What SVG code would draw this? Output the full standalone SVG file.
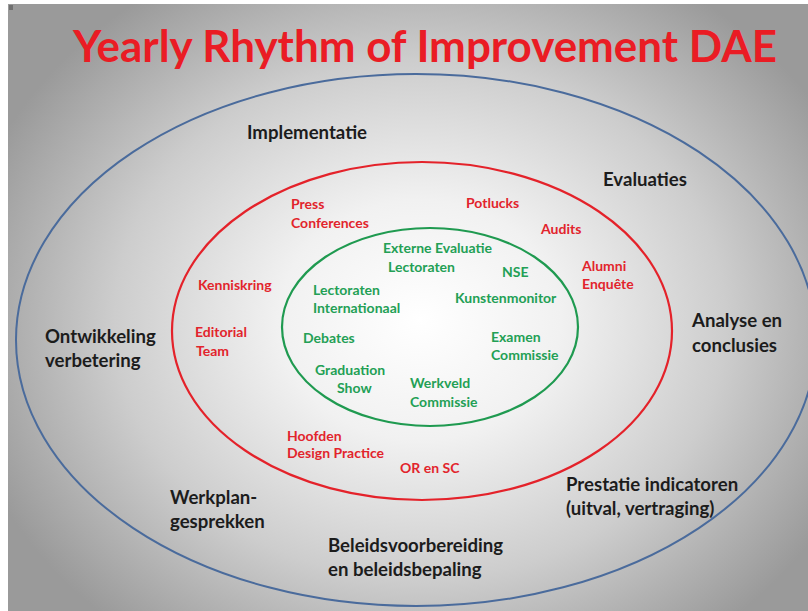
<svg xmlns="http://www.w3.org/2000/svg" width="808" height="611" viewBox="0 0 808 611">
  <defs>
    <radialGradient id="bg" gradientUnits="userSpaceOnUse" cx="420" cy="320" r="470" gradientTransform="translate(420 320) scale(1 0.85) translate(-420 -320)">
      <stop offset="0" stop-color="#ffffff"/>
      <stop offset="0.3" stop-color="#f1f1f1"/>
      <stop offset="0.65" stop-color="#cdcdcd"/>
      <stop offset="1" stop-color="#9a9a9a"/>
    </radialGradient>
    <style>
      text { font-family: Lato, "Liberation Sans", sans-serif; font-weight: bold; }
      .title { fill: #ea1c24; font-size: 44px; }
      .phase { fill: #1c1c1c; font-size: 18.6px; }
      .mid { fill: #e2242c; font-size: 14px; }
      .core { fill: #23a055; font-size: 14px; }
      .ring { fill: none; }
    </style>
  </defs>

  <!-- slide background -->
  <rect width="808" height="611" fill="#ffffff"/>
  <rect x="8" y="4" width="800" height="607" fill="url(#bg)"/>
  <rect x="9" y="5" width="4" height="5" fill="#555555" opacity="0.6"/>

  <text class="title" x="73" y="62" textLength="704" lengthAdjust="spacingAndGlyphs">Yearly Rhythm of Improvement DAE</text>

  <!-- rings -->
  <g id="rings">
    <ellipse id="outer-ring" class="ring" cx="416" cy="340" rx="400" ry="266" stroke="#4a6b9c" stroke-width="2"/>
    <ellipse id="middle-ring" class="ring" cx="422" cy="331" rx="250" ry="169" stroke="#e4222a" stroke-width="2.2"/>
    <ellipse id="inner-ring" class="ring" cx="430" cy="327" rx="148" ry="99" stroke="#1f9a50" stroke-width="2.2"/>
  </g>

  <!-- outer ring: phases -->
  <g id="phases">
    <text class="phase" x="247" y="139">Implementatie</text>
    <text class="phase" x="603" y="186">Evaluaties</text>
    <text class="phase" x="45" y="343">Ontwikkeling</text>
    <text class="phase" x="45" y="367">verbetering</text>
    <text class="phase" x="692" y="327">Analyse en</text>
    <text class="phase" x="692" y="352">conclusies</text>
    <text class="phase" x="170" y="504">Werkplan-</text>
    <text class="phase" x="170" y="528">gesprekken</text>
    <text class="phase" x="328" y="552">Beleidsvoorbereiding</text>
    <text class="phase" x="328" y="576">en beleidsbepaling</text>
    <text class="phase" x="566" y="491">Prestatie indicatoren</text>
    <text class="phase" x="566" y="515">(uitval, vertraging)</text>
  </g>

  <!-- middle ring: red items -->
  <g id="middle-items">
    <text class="mid" x="291" y="209">Press</text>
    <text class="mid" x="291" y="228">Conferences</text>
    <text class="mid" x="466" y="208">Potlucks</text>
    <text class="mid" x="541" y="234">Audits</text>
    <text class="mid" x="582" y="271">Alumni</text>
    <text class="mid" x="582" y="289">Enquête</text>
    <text class="mid" x="198" y="290">Kenniskring</text>
    <text class="mid" x="195" y="337">Editorial</text>
    <text class="mid" x="196" y="356">Team</text>
    <text class="mid" x="287" y="441">Hoofden</text>
    <text class="mid" x="287" y="458">Design Practice</text>
    <text class="mid" x="400" y="473">OR en SC</text>
  </g>

  <!-- inner ring: green items -->
  <g id="core-items">
    <text class="core" x="383" y="253">Externe Evaluatie</text>
    <text class="core" x="388" y="272">Lectoraten</text>
    <text class="core" x="502" y="277">NSE</text>
    <text class="core" x="313" y="295">Lectoraten</text>
    <text class="core" x="313" y="313">Internationaal</text>
    <text class="core" x="455" y="303">Kunstenmonitor</text>
    <text class="core" x="303" y="343">Debates</text>
    <text class="core" x="491" y="342">Examen</text>
    <text class="core" x="491" y="360">Commissie</text>
    <text class="core" x="315" y="375">Graduation</text>
    <text class="core" x="337" y="393">Show</text>
    <text class="core" x="410" y="388">Werkveld</text>
    <text class="core" x="410" y="407">Commissie</text>
  </g>
</svg>
